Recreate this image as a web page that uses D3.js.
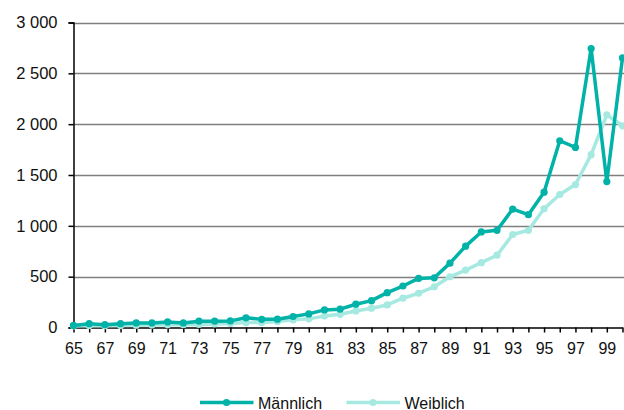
<!DOCTYPE html>
<html><head><meta charset="utf-8">
<script src="https://cdn.jsdelivr.net/npm/d3@7"></script>
<style>html,body{margin:0;padding:0;background:#fff;} svg{display:block;font-family:"Liberation Sans",Arial,sans-serif;}</style>
</head><body>
<svg id="c" width="624" height="410"></svg>
<script>
const years = d3.range(65, 101);
const maleValues = [20,38,28,38,45,45,55,45,62,62,65,95,80,82,108,134,173,180,229,264,343,408,483,489,633,800,940,956,1165,1110,1331,1837,1771,2744,1435,2652];
const femaleValues = [15,20,18,20,22,24,26,28,30,35,40,48,50,60,75,85,112,130,163,190,222,288,337,400,499,565,638,711,915,956,1168,1308,1406,1700,2091,1984];
const yTicks = [0,500,1000,1500,2000,2500,3000];
const xLabelYears = d3.range(65, 100, 2);
const seriesNames = ["Männlich","Weiblich"];
const colors = ["#00b2a8","#a6e9e1"];

const svg = d3.select("#c");
const x = d3.scaleLinear().domain([65,100]).range([73.5,622.5]);
const y = d3.scaleLinear().domain([0,3000]).range([327.5,22.5]);
const loc = d3.formatLocale({decimal:",",thousands:"\u00a0",grouping:[3],currency:["","€"]});
const fmt = loc.format(",d");

// gridlines
svg.append("g").selectAll("line").data(yTicks.filter(d=>d>0)).join("line")
  .attr("x1",73.5).attr("x2",624).attr("y1",d=>Math.round(y(d))+0.5).attr("y2",d=>Math.round(y(d))+0.5)
  .attr("stroke","#7f7f7f").attr("stroke-width",1.5);

// y axis
const yAxis = svg.append("g").attr("transform","translate(73.5,0)")
  .call(d3.axisLeft(y).tickValues(yTicks).tickFormat(fmt).tickSize(5).tickPadding(11));
yAxis.select(".domain").attr("stroke","#000").attr("stroke-width",1.5);
yAxis.selectAll(".tick line").attr("stroke","#000").attr("stroke-width",1.5);
yAxis.selectAll("text").attr("font-size",16.5).attr("fill","#111").attr("font-family","Liberation Sans, Arial, sans-serif");

// x axis
const xAxis = svg.append("g").attr("transform","translate(0,327.5)")
  .call(d3.axisBottom(x).tickValues(years).tickSize(5).tickPadding(10).tickSizeOuter(0)
    .tickFormat(d=> xLabelYears.includes(d) ? String(d) : ""));
xAxis.select(".domain").attr("stroke","#000").attr("stroke-width",1.5);
xAxis.selectAll(".tick line").attr("stroke","#000").attr("stroke-width",1.5);
xAxis.selectAll("text").attr("font-size",16).attr("fill","#111").attr("font-family","Liberation Sans, Arial, sans-serif");

const series = [femaleValues, maleValues];
const sColors = [colors[1], colors[0]];
const line = d3.line().x((d,i)=>x(years[i])).y(d=>y(d));
series.forEach((vals,k)=>{
  const g = svg.append("g");
  g.append("path").datum(vals).attr("d",line).attr("fill","none")
    .attr("stroke",sColors[k]).attr("stroke-width",3.5).attr("stroke-linejoin","round");
  g.selectAll("circle").data(vals).join("circle")
    .attr("cx",(d,i)=>x(years[i])).attr("cy",d=>y(d)).attr("r",3.6).attr("fill",sColors[k]);
});

// legend
const legend = svg.append("g");
const lx = [200, 346.5];
seriesNames.forEach((name,i)=>{
  const g = legend.append("g").attr("transform",`translate(${lx[i]},402.5)`);
  g.append("line").attr("x1",0).attr("x2",53.5).attr("y1",0).attr("y2",0)
    .attr("stroke",colors[i]).attr("stroke-width",3.5);
  g.append("circle").attr("cx",26.5).attr("cy",0).attr("r",3.6).attr("fill",colors[i]);
  g.append("text").attr("x",58).attr("y",6).attr("font-size",16).attr("fill","#111").text(name);
});
</script>
</body></html>
